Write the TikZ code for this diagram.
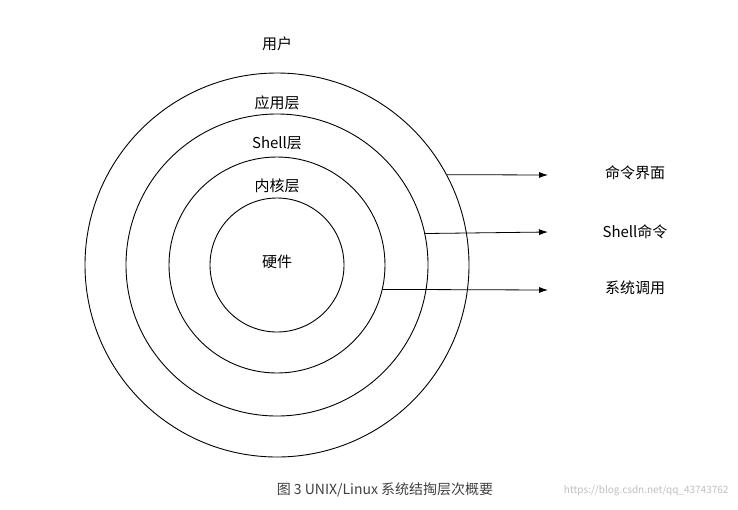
\documentclass[tikz,border=0pt]{standalone}
\usepackage{fontspec}
\setmainfont{Noto Sans CJK SC}
\usetikzlibrary{arrows.meta}
\tikzset{>={Latex[width=6pt,length=9pt]}}
\tikzset{ring/.style={draw, circle, inner sep=0pt, line width=0.9pt},
  lbl/.style={font=\fontsize{15}{17}\selectfont}}

\begin{document}
\begin{tikzpicture}[x=1pt, y=-1pt]
  \useasboundingbox (0,0) rectangle (738,509);

  \node[ring, minimum size=384pt] (user) at (277,265) {};
  \node[ring, minimum size=302pt] (app) at (277,265) {};
  \node[ring, minimum size=216pt] (shell) at (277,265) {};
  \node[ring, minimum size=134pt] (hw) at (277,265) {};

  \node[lbl] (tuser) at (277,44) {用户};
  \node[lbl] (tapp) at (277,103) {应用层};
  \node[lbl] (tshell) at (277,143) {Shell层};
  \node[lbl] (tkern) at (277,186) {内核层};
  \node[lbl] (thw) at (277,262) {硬件};

  \coordinate (e1) at (548,175);
  \coordinate (e2) at (548,232);
  \coordinate (e3) at (548,290);
  \draw[->, line width=0.8pt] (user.28) -- (e1);
  \draw[->, line width=0.8pt] (app.12.6) -- (e2);
  \draw[->, line width=0.8pt] (shell.-13.4) -- (e3);

  \node[lbl] (cmd) at (635,173) {命令界面};
  \node[lbl] (scmd) at (635,232) {Shell命令};
  \node[lbl] (sys) at (635,288) {系统调用};

  \node[font=\fontsize{14}{16}\selectfont, text=black!75] (cap) at (385,490) {图 3 UNIX/Linux 系统结掏层次概要};
  \node[font=\fontsize{10}{12}\selectfont, text=black!25, anchor=east] (wm) at (732,491) {https://blog.csdn.net/qq\_43743762};
\end{tikzpicture}
\end{document}
